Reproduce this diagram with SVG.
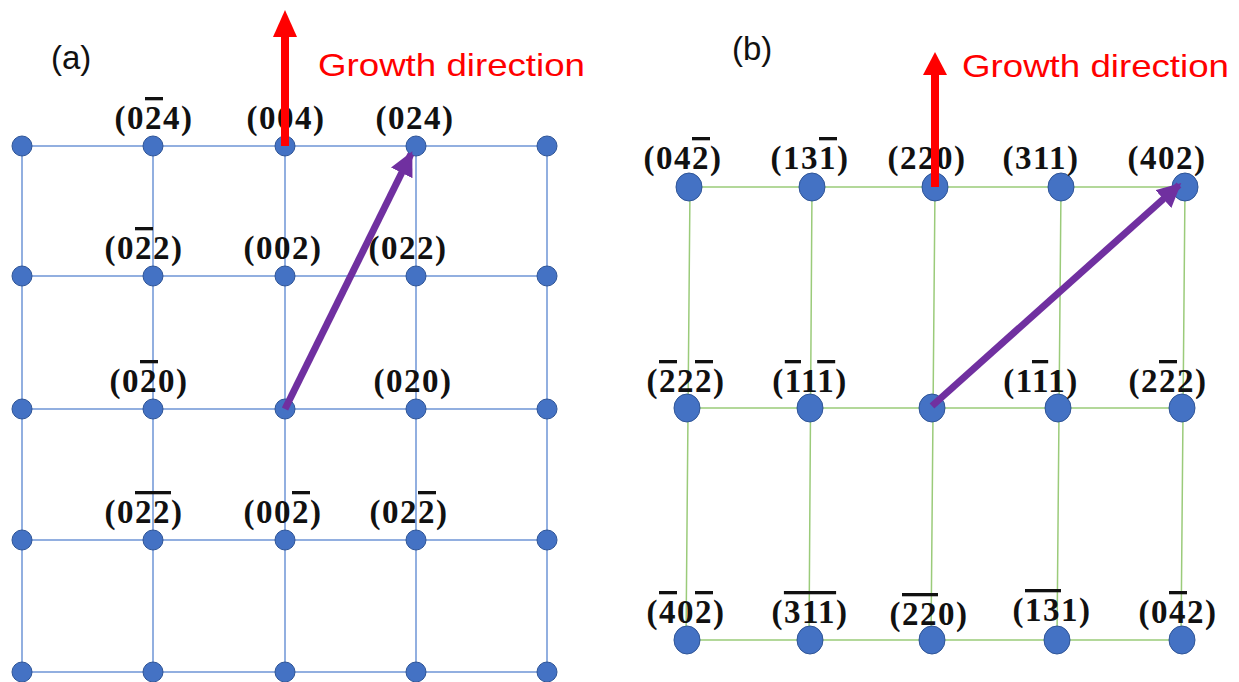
<svg xmlns="http://www.w3.org/2000/svg" width="1239" height="682" viewBox="0 0 1239 682">
<style>
.ga{stroke:#6F95D6;stroke-width:1.5;fill:none}
.gb{stroke:#9BCB7A;stroke-width:1.5;fill:none}
.da{fill:#4472C4;stroke:#2F5597;stroke-width:1}
.lbl{font-family:"Liberation Serif","Times New Roman",serif;font-weight:bold;font-size:33px;letter-spacing:1.5px;text-anchor:middle;fill:#111}
.ob{text-decoration:overline}
.gd{font-family:"Liberation Sans",Arial,sans-serif;font-size:32px;fill:#FF0000}
.pl{font-family:"Liberation Sans",Arial,sans-serif;font-size:33px;fill:#111}
.red{stroke:#FF0000;stroke-width:8}
.pur{stroke:#7030A0;stroke-width:7;marker-end:url(#ph)}
</style>
<defs>
<marker id="ph" markerUnits="userSpaceOnUse" markerWidth="28" markerHeight="28" refX="21" refY="12" orient="auto">
<path d="M0,0 L24,12 L0,24 Z" fill="#7030A0"/>
</marker>
</defs>
<rect width="1239" height="682" fill="#fff"/>

<g id="connectors">
<g id="grid-a">
<path class="ga" d="M22,146H547M22,276H547M22,409H547M22,540H547M22,672H547"/>
<path class="ga" d="M22,146V672M153,146V672M285,146V672M416,146V672M547,146V672"/>
</g>
<g id="grid-b">
<path class="gb" d="M688,187H1185M686,408H1183M686,640H1183"/>
<path class="gb" d="M690,187L686,640M812,187L809,640M935,187L931,640M1061,187L1057,640M1185,187L1181,640"/>
</g>
</g>

<g id="nodes-a">
<circle class="da" cx="22" cy="146" r="10"/><circle class="da" cx="153" cy="146" r="10"/><circle class="da" cx="285" cy="146" r="10"/><circle class="da" cx="416" cy="146" r="10"/><circle class="da" cx="547" cy="146" r="10"/>
<circle class="da" cx="22" cy="276" r="10"/><circle class="da" cx="153" cy="276" r="10"/><circle class="da" cx="285" cy="276" r="10"/><circle class="da" cx="416" cy="276" r="10"/><circle class="da" cx="547" cy="276" r="10"/>
<circle class="da" cx="22" cy="409" r="10"/><circle class="da" cx="153" cy="409" r="10"/><circle class="da" cx="285" cy="409" r="10"/><circle class="da" cx="416" cy="409" r="10"/><circle class="da" cx="547" cy="409" r="10"/>
<circle class="da" cx="22" cy="540" r="10"/><circle class="da" cx="153" cy="540" r="10"/><circle class="da" cx="285" cy="540" r="10"/><circle class="da" cx="416" cy="540" r="10"/><circle class="da" cx="547" cy="540" r="10"/>
<circle class="da" cx="22" cy="672" r="10"/><circle class="da" cx="153" cy="672" r="10"/><circle class="da" cx="285" cy="672" r="10"/><circle class="da" cx="416" cy="672" r="10"/><circle class="da" cx="547" cy="672" r="10"/>
</g>

<g id="nodes-b">
<ellipse class="da" cx="689" cy="187" rx="13" ry="14"/><ellipse class="da" cx="812" cy="187" rx="13" ry="14"/><ellipse class="da" cx="935" cy="187" rx="13" ry="14"/><ellipse class="da" cx="1061" cy="187" rx="13" ry="14"/><ellipse class="da" cx="1185" cy="187" rx="13" ry="14"/>
<ellipse class="da" cx="687" cy="408" rx="13" ry="14"/><ellipse class="da" cx="810" cy="408" rx="13" ry="14"/><ellipse class="da" cx="932" cy="408" rx="13" ry="14"/><ellipse class="da" cx="1058" cy="408" rx="13" ry="14"/><ellipse class="da" cx="1182" cy="408" rx="13" ry="14"/>
<ellipse class="da" cx="687" cy="640" rx="13" ry="14"/><ellipse class="da" cx="810" cy="640" rx="13" ry="14"/><ellipse class="da" cx="932" cy="640" rx="13" ry="14"/><ellipse class="da" cx="1057" cy="640" rx="13" ry="14"/><ellipse class="da" cx="1182" cy="640" rx="13" ry="14"/>
</g>

<g id="labels-a">
<text class="lbl" x="154" y="129">(0<tspan class="ob">2</tspan>4)</text>
<text class="lbl" x="286" y="129">(004)</text>
<text class="lbl" x="415" y="129">(024)</text>
<text class="lbl" x="144" y="259">(0<tspan class="ob">2</tspan>2)</text>
<text class="lbl" x="283" y="259">(002)</text>
<text class="lbl" x="408" y="259">(022)</text>
<text class="lbl" x="149" y="392">(0<tspan class="ob">2</tspan>0)</text>
<text class="lbl" x="413" y="392">(020)</text>
<text class="lbl" x="144" y="523">(0<tspan class="ob">22</tspan>)</text>
<text class="lbl" x="283" y="523">(00<tspan class="ob">2</tspan>)</text>
<text class="lbl" x="409" y="523">(02<tspan class="ob">2</tspan>)</text>
</g>

<g id="labels-b">
<text class="lbl" x="683" y="169">(04<tspan class="ob">2</tspan>)</text>
<text class="lbl" x="810" y="169">(13<tspan class="ob">1</tspan>)</text>
<text class="lbl" x="927" y="169">(220)</text>
<text class="lbl" x="1041" y="169">(311)</text>
<text class="lbl" x="1167" y="169">(402)</text>
<text class="lbl" x="686" y="392">(<tspan class="ob">2</tspan>2<tspan class="ob">2</tspan>)</text>
<text class="lbl" x="810" y="392">(<tspan class="ob">1</tspan>1<tspan class="ob">1</tspan>)</text>
<text class="lbl" x="1041" y="392">(1<tspan class="ob">1</tspan>1)</text>
<text class="lbl" x="1168" y="392">(2<tspan class="ob">2</tspan>2)</text>
<text class="lbl" x="686" y="623">(<tspan class="ob">4</tspan>0<tspan class="ob">2</tspan>)</text>
<text class="lbl" x="810" y="623">(<tspan class="ob">311</tspan>)</text>
<text class="lbl" x="929" y="625">(<tspan class="ob">22</tspan>0)</text>
<text class="lbl" x="1052" y="621">(<tspan class="ob">13</tspan>1)</text>
<text class="lbl" x="1178" y="623">(0<tspan class="ob">4</tspan>2)</text>
</g>

<g id="arrows">
<line class="pur" x1="285" y1="409" x2="411" y2="154"/>
<line class="pur" x1="932" y1="406" x2="1179" y2="185"/>
<line class="red" x1="285" y1="146" x2="285" y2="34"/>
<polygon points="273,37 297,37 285,10" fill="#FF0000"/>
<line class="red" x1="935" y1="187" x2="935" y2="72"/>
<polygon points="923,75 947,75 935,52" fill="#FF0000"/>
</g>

<g id="titles">
<text class="pl" x="51" y="69">(a)</text>
<text class="gd" x="318" y="76" textLength="267" lengthAdjust="spacingAndGlyphs">Growth direction</text>
<text class="pl" x="732" y="60">(b)</text>
<text class="gd" x="962" y="77" textLength="267" lengthAdjust="spacingAndGlyphs">Growth direction</text>
</g>
</svg>
